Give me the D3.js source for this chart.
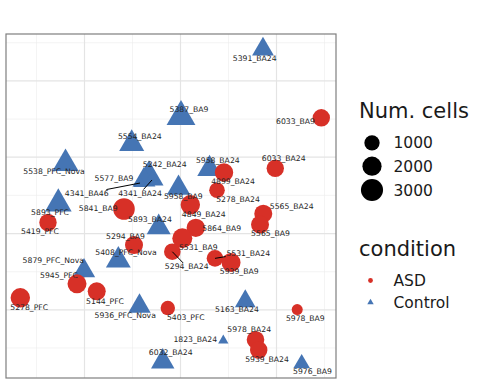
<!DOCTYPE html>
<html><head><meta charset="utf-8">
<script src="https://cdn.jsdelivr.net/npm/d3@7"></script>
<style>body{margin:0;background:#fff}</style>
</head><body><svg id="c" width="480" height="384"></svg>
<script>
// ---- data ----
const samples = ["5391_BA24","5387_BA9","6033_BA9","5554_BA24","5538_PFC_Nova","5242_BA24","5577_BA9","4341_BA46","4341_BA24","5958_BA24","4899_BA24","6033_BA24","5958_BA9","5278_BA24","5841_BA9","5893_PFC","5419_PFC","5893_BA24","4849_BA24","5565_BA24","5565_BA9","5864_BA9","5294_BA9","5408_PFC_Nova","5531_BA9","5294_BA24","5531_BA24","5939_BA9","5879_PFC_Nova","5945_PFC","5144_PFC","5278_PFC","5936_PFC_Nova","5403_PFC","5163_BA24","5978_BA9","5978_BA24","5939_BA24","1823_BA24","5976_BA9","6032_BA24"];
const condition = ["Control","Control","ASD","Control","Control","Control","Control","Control","Control","Control","ASD","ASD","Control","ASD","ASD","Control","ASD","Control","ASD","ASD","ASD","ASD","ASD","Control","ASD","ASD","ASD","ASD","Control","ASD","ASD","ASD","Control","ASD","Control","ASD","ASD","ASD","Control","Control","Control"];
const pc1 = [17.29,0.21,29.44,-10.06,-23.85,-6.46,-7.5,-8.33,-5.83,6.15,9.17,19.85,-0.31,7.71,-11.67,-25.35,-27.5,-4.44,2.15,17.35,16.67,3.29,-9.58,-12.85,0.48,-1.6,7.29,10.63,-20.0,-21.46,-17.35,-33.27,-8.44,-2.54,13.6,24.42,15.73,16.4,9.02,25.35,-3.6];
const pc2 = [24.08,15.26,15.10,11.69,9.11,7.34,6.95,6.55,6.95,8.39,7.93,8.48,5.90,5.60,3.15,3.84,1.38,0.76,3.70,2.53,1.11,0.68,-1.57,-3.58,-0.69,-2.45,-3.32,-3.87,-4.95,-6.66,-7.64,-8.49,-9.59,-9.83,-8.95,-10.03,-13.98,-15.33,-14.08,-17.10,-16.85];
const cells = [1200,2740,1500,1835,2076,2810,1400,185,416,1720,1780,1500,1500,1065,2810,2200,1500,1610,2076,1665,1665,1780,1665,1780,2266,1300,1300,1954,1300,1954,1665,2076,1300,816,1020,289,1556,1500,30,473,1500];
const sizeBreaks = [1000, 2000, 3000];
const conditionLevels = ["ASD", "Control"];
const xMajor = [-20, 0, 20], xMinor = [-30, -10, 10, 30];
const yMajor = [-10, 0, 10, 20], yMinor = [-15, -5, 5, 15, 25];

// ---- layout (label placement offsets in px, as produced by label repulsion) ----
const labelOffsets = [[-8.3,9.4],[8,-6.9],[-25.8,3.5],[8.1,-7.1],[-11.5,7.5],[15.7,-12.3],[-30,-1.7],[-53.3,10.3],[-12,13.3],[8.3,-8.7],[9,8.8],[8.4,-10],[4.8,8.7],[21,8.7],[-25.8,-0.7],[-8.3,9],[-8,9.2],[-8.7,-7.9],[13.4,9.5],[28.4,-7],[10.5,8.8],[25.9,0.5],[-8.5,-9],[7.7,-8.6],[16,9],[14.4,15],[33.3,-5.6],[8.2,8.2],[-30.7,-10.1],[-18,-8.5],[8.3,9.4],[8.9,9.9],[-14.3,8.8],[18,9.3],[-8.3,8],[8.1,8.8],[-6.3,-10.4],[8.3,9.3],[-28,-1.4],[10.8,8.2],[8,-8.9]];
const withSegment = new Set(["4341_BA46","4341_BA24","5294_BA24","5531_BA24"]);

const svg = d3.select("#c");
const P = {l: 6, r: 336, t: 34, b: 378};
const x = d3.scaleLinear().domain([-30, 30]).range([36, 324]);
const y = d3.scaleLinear().domain([-15, 25]).range([347.5, 42.25]);
const size = d3.scaleSqrt().domain([0, 3500]).range([3, 11.7]);
const color = d3.scaleOrdinal().domain(conditionLevels).range(["#d73027", "#4575b4"]);
const shape = d3.scaleOrdinal().domain(conditionLevels).range([d3.symbolCircle, d3.symbolTriangle]);

svg.append("rect").attr("width", 480).attr("height", 384).attr("fill", "#fff");
svg.append("defs").append("clipPath").attr("id", "clip").append("rect")
  .attr("x", P.l).attr("y", P.t).attr("width", P.r - P.l).attr("height", P.b - P.t);

// grid via axes
function grid(axis, vals, w, col, transform) {
  const g = svg.append("g").attr("transform", transform)
    .call(axis.tickValues(vals).tickFormat("").tickSizeOuter(0));
  g.select(".domain").remove();
  g.selectAll(".tick line").attr("stroke", col).attr("stroke-width", w);
}
grid(d3.axisBottom(x).tickSize(-(P.b - P.t)), xMinor, 0.6, "#ededed", `translate(0,${P.b})`);
grid(d3.axisLeft(y).tickSize(-(P.r - P.l)), yMinor, 0.6, "#ededed", `translate(${P.l},0)`);
grid(d3.axisBottom(x).tickSize(-(P.b - P.t)), xMajor, 1.2, "#e4e4e4", `translate(0,${P.b})`);
grid(d3.axisLeft(y).tickSize(-(P.r - P.l)), yMajor, 1.2, "#e4e4e4", `translate(${P.l},0)`);

const data = samples.map((s, i) => ({s, c: condition[i], x: pc1[i], y: pc2[i], n: cells[i], off: labelOffsets[i]}));

const pts = svg.append("g").attr("clip-path", "url(#clip)");
pts.selectAll("path").data(data).join("path")
  .attr("transform", d => `translate(${x(d.x)},${y(d.y)})`)
  .attr("d", d => d3.symbol().type(shape(d.c)).size(Math.PI * size(d.n) ** 2)())
  .attr("fill", d => color(d.c));

const segG = svg.append("g");
const labG = svg.append("g").attr("font-family", "DejaVu Sans").attr("font-size", 7.7).attr("fill", "#262626");
labG.selectAll("text").data(data).join("text")
  .attr("x", d => x(d.x) + d.off[0]).attr("y", d => y(d.y) + d.off[1])
  .attr("dy", "0.36em").attr("text-anchor", "middle").text(d => d.s)
  .each(function(d) {
    if (!withSegment.has(d.s)) return;
    const b = this.getBBox();
    const cx = b.x + b.width / 2, cy = y(d.y) + d.off[1];
    const hw = b.width / 2 + 1, hh = 3.8;
    const px = x(d.x), py = y(d.y);
    const dx = px - cx, dy = py - cy;
    const t = Math.min(dx !== 0 ? hw / Math.abs(dx) : Infinity, dy !== 0 ? hh / Math.abs(dy) : Infinity);
    segG.append("line").attr("x1", cx + dx * t).attr("y1", cy + dy * t).attr("x2", px).attr("y2", py)
      .attr("stroke", "#000").attr("stroke-width", 1);
  });

svg.append("rect").attr("x", P.l).attr("y", P.t).attr("width", P.r - P.l).attr("height", P.b - P.t)
  .attr("fill", "none").attr("stroke", "#7f7f7f").attr("stroke-width", 1.2);

// legends
const lg = svg.append("g").attr("font-family", "DejaVu Sans").attr("fill", "#1a1a1a");
lg.append("text").attr("x", 359).attr("y", 118.3).attr("font-size", 21).text("Num. cells");
const sizeY = [142.8, 166.2, 190];
sizeBreaks.forEach((v, i) => {
  lg.append("circle").attr("cx", 372).attr("cy", sizeY[i]).attr("r", size(v)).attr("fill", "#000");
  lg.append("text").attr("x", 393.5).attr("y", sizeY[i]).attr("dy", "0.36em").attr("font-size", 15.5).text(d3.format("d")(v));
});
lg.append("text").attr("x", 359).attr("y", 255.7).attr("font-size", 21).text("condition");
const condY = [280.5, 302.5];
conditionLevels.forEach((c, i) => {
  lg.append("path").attr("transform", `translate(370.5,${condY[i]})`)
    .attr("d", d3.symbol().type(shape(c)).size(Math.PI * 2.4 * 2.4)()).attr("fill", color(c));
  lg.append("text").attr("x", 393.5).attr("y", condY[i]).attr("dy", "0.36em").attr("font-size", 15.5).text(c);
});
</script></body></html>
